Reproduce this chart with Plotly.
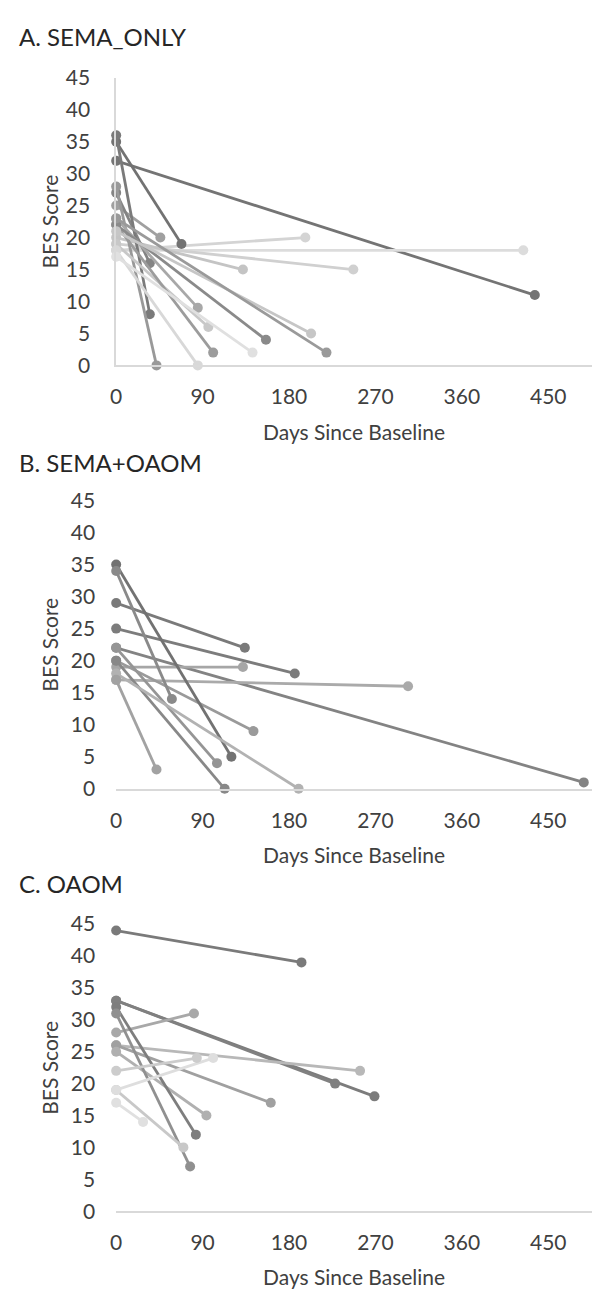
import plotly.graph_objects as go

# ---------------- data ----------------
# Panel A: SEMA_ONLY  (baseline BES at day 0, follow-up day, follow-up BES)
a_base   = [32, 18, 18, 19, 20, 35, 25, 27, 36, 28, 23, 19, 22, 18, 22, 17, 21, 23]
a_days   = [436, 424, 197, 247, 132, 68, 46, 35, 35, 42, 85, 96, 101, 85, 156, 142, 203, 219]
a_follow = [11, 18, 20, 15, 15, 19, 20, 16, 8, 0, 9, 6, 2, 0, 4, 2, 5, 2]

# Panel B: SEMA+OAOM
b_base   = [22, 17, 25, 29, 19, 20, 35, 34, 22, 20, 18, 17]
b_days   = [487, 304, 186, 134, 132, 143, 120, 58, 105, 113, 190, 42]
b_follow = [1, 16, 18, 22, 19, 9, 5, 14, 4, 0, 0, 3]

# Panel C: OAOM
c_base   = [44, 33, 33, 26, 26, 28, 25, 32, 31, 19, 17, 19, 22]
c_days   = [193, 269, 228, 254, 161, 81, 94, 83, 77, 70, 28, 101, 84]
c_follow = [39, 18, 20, 22, 17, 31, 15, 12, 7, 10, 14, 24, 24]

x_ticks = [0, 90, 180, 270, 360, 450]
y_ticks = [0, 5, 10, 15, 20, 25, 30, 35, 40, 45]
titles = ["A. SEMA_ONLY", "B. SEMA+OAOM", "C. OAOM"]
x_title = "Days Since Baseline"
y_title = "BES Score"

# ---------------- styles ----------------
a_gray = ["#747474", "#dcdcdc", "#d4d4d4", "#d0d0d0", "#c4c4c4", "#727272", "#a0a0a0",
          "#848484", "#7a7a7a", "#999999", "#a8a8a8", "#c8c8c8", "#9c9c9c", "#d8d8d8",
          "#8a8a8a", "#e0e0e0", "#c6c6c6", "#9a9a9a"]
b_gray = ["#838383", "#aaaaaa", "#7c7c7c", "#7a7a7a", "#a6a6a6", "#9a9a9a", "#727272",
          "#8a8a8a", "#959595", "#888888", "#b2b2b2", "#a2a2a2"]
c_gray = ["#7a7a7a", "#7c7c7c", "#808080", "#b8b8b8", "#a0a0a0", "#a8a8a8", "#b0b0b0",
          "#7e7e7e", "#909090", "#c8c8c8", "#e0e0e0", "#dedede", "#cccccc"]

W, H = 592, 1298
FONT = "Lato"
TXT = "#404040"
x_left_px = 111.3
x_max = (W - x_left_px) / 0.970
# (zero px, top px) for each panel
panels_px = [(358.3, 65.0), (790.0, 496.0), (1220.7, 928.0)]
title_y_px = [22.7, 457.0, 886.7]

fig = go.Figure()
datasets = [(a_base, a_days, a_follow, a_gray),
            (b_base, b_days, b_follow, b_gray),
            (c_base, c_days, c_follow, c_gray)]

for i, (base, days, follow, grays) in enumerate(datasets):
    sfx = "" if i == 0 else str(i + 1)
    for b0, d1, f1, col in zip(base, days, follow, grays):
        fig.add_trace(go.Scatter(
            x=[0, d1], y=[b0, f1], mode="lines+markers",
            line=dict(color=col, width=2.8),
            marker=dict(color=col, size=10),
            cliponaxis=False, showlegend=False, hoverinfo="skip",
            xaxis="x" + sfx, yaxis="y" + sfx))

    zero_px, top_px = panels_px[i]
    ydom = [1 - zero_px / H, 1 - top_px / H]
    fig.layout["xaxis" + sfx] = dict(
        domain=[x_left_px / W, 1], range=[0, x_max], anchor="y" + sfx,
        tickvals=x_ticks, showgrid=False, zeroline=False,
        showline=True, linecolor="#d9d9d9", linewidth=1.5,
        ticks="", ticklabelstandoff=12,
        tickfont=dict(family=FONT, size=21, color=TXT))
    fig.layout["yaxis" + sfx] = dict(
        domain=ydom, range=[0, 45], anchor="x" + sfx,
        tickvals=y_ticks, showgrid=False, zeroline=False,
        showline=(i == 0), linecolor="#d9d9d9", linewidth=1.5,
        ticks="", ticklabelstandoff=20,
        tickfont=dict(family=FONT, size=21, color=TXT))

    # panel title
    fig.add_annotation(text=titles[i], xref="paper", yref="paper",
                       x=11 / W, y=1 - title_y_px[i] / H, xanchor="left", yanchor="middle",
                       showarrow=False, font=dict(family=FONT, size=24, color="#262626"))
    # x axis title
    fig.add_annotation(text=x_title, xref="paper", yref="paper",
                       x=(x_left_px + W) / 2 / W, y=1 - (zero_px + 67) / H,
                       xanchor="center", yanchor="middle",
                       showarrow=False, font=dict(family=FONT, size=21, color=TXT))
    # y axis title
    fig.add_annotation(text=y_title, xref="paper", yref="paper",
                       x=44.5 / W, y=1 - (zero_px + top_px) / 2 / H,
                       xanchor="center", yanchor="middle", textangle=-90,
                       showarrow=False, font=dict(family=FONT, size=21, color=TXT))

fig.update_layout(width=W, height=H, margin=dict(l=0, r=0, t=0, b=0),
                  paper_bgcolor="white", plot_bgcolor="white")
fig.write_html("out.html", config={"displayModeBar": False},
               post_script="document.body.style.margin='0';"
                           "document.body.style.overflow='hidden';")
